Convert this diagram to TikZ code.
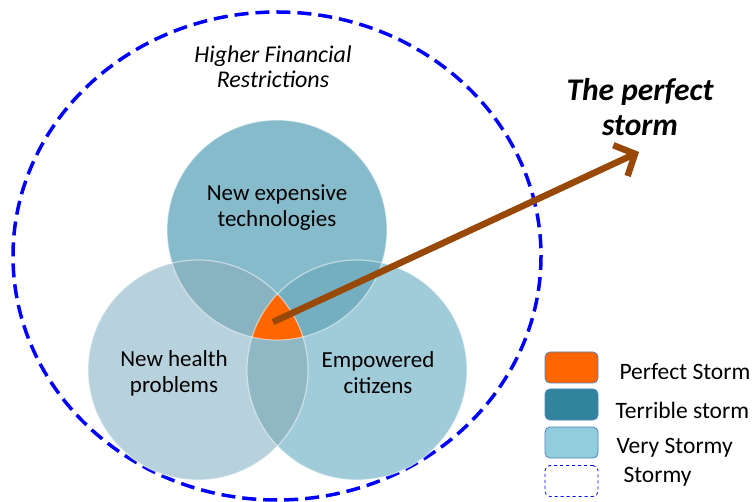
\documentclass[tikz,border=0pt]{standalone}
\usepackage{fontspec}
\setmainfont{Carlito}
\usetikzlibrary{arrows.meta}
\definecolor{stormtop}{HTML}{86BBCB}
\definecolor{stormleft}{HTML}{B7D2DC}
\definecolor{stormright}{HTML}{A0CBD9}
\definecolor{stormtl}{HTML}{8AB3C1}
\definecolor{stormtr}{HTML}{73AFC1}
\definecolor{stormlr}{HTML}{8FB7C4}
\definecolor{perfect}{HTML}{FF6600}
\definecolor{terrible}{HTML}{31849B}
\definecolor{verystormy}{HTML}{92CDDC}
\definecolor{arrowbrown}{HTML}{984807}
\definecolor{rim}{HTML}{4F81BD}
\tikzset{
	label text/.style={font=\fontsize{23}{26}\selectfont, align=center},
	legend box/.style={draw=rim, rounded corners=5pt, minimum width=53pt, minimum height=31pt, line width=0.8pt},
	legend text/.style={anchor=west, font=\fontsize{23.5}{26}\selectfont},
}
\begin{document}
\begin{tikzpicture}[x=1pt, y=-1pt]
		\useasboundingbox (0,0) rectangle (755,502);
		% outer dashed boundary
		\draw[blue, line width=3.5pt, dash pattern=on 14pt off 7pt] (277,256) ellipse (264 and 244);
		\node[font=\fontsize{24}{25}\selectfont\itshape, align=center] (restrict) at (273,67) {Higher Financial\\Restrictions};
		% the three circles
		\coordinate (ctop) at (277,230);
		\coordinate (cleft) at (198,370);
		\coordinate (cright) at (357,370);
		\fill[stormleft] (cleft) circle (110);
		\fill[stormright] (cright) circle (110);
		\fill[stormtop] (ctop) circle (110);
		\begin{scope}
			\clip (ctop) circle (110);
			\fill[stormtl] (cleft) circle (110);
			\fill[stormtr] (cright) circle (110);
		\end{scope}
		\begin{scope}
			\clip (cleft) circle (110);
			\fill[stormlr] (cright) circle (110);
		\end{scope}
		\begin{scope}
			\clip (ctop) circle (110);
			\clip (cleft) circle (110);
			\fill[perfect] (cright) circle (110);
		\end{scope}
		\draw[white, opacity=0.5, line width=1.2pt] (cleft) circle (110);
		\draw[white, opacity=0.5, line width=1.2pt] (cright) circle (110);
		\draw[white, opacity=0.5, line width=1.2pt] (ctop) circle (110);
		\node[label text] (tech) at (277,208) {New expensive\\technologies};
		\node[label text] (health) at (174,373) {New health\\problems};
		\node[label text] (citizens) at (378,373) {Empowered\\citizens};
		% the arrow
		\coordinate (core) at (273,322);
		\node[font=\fontsize{31.5}{35}\selectfont\bfseries\itshape, align=center] (storm) at (640,107) {The perfect\\storm};
		\coordinate (tip) at (639,152);
		\draw[arrowbrown, line width=6.5pt, -{Straight Barb[length=16pt, width=34pt, line width=6.5pt]}] (core) -- (tip);
		% legend
		\node[legend box, fill=perfect] (lperfect) at (571.5,367.5) {};
		\node[legend box, fill=terrible] (lterrible) at (571.5,404.5) {};
		\node[legend box, fill=verystormy] (lvery) at (571.5,442.5) {};
		\node[legend box, draw=blue, dashed, fill=white] (lstormy) at (571.5,481) {};
		\node[legend text] (tperfect) at (616,372) {Perfect Storm};
		\node[legend text] (tterrible) at (612,410) {Terrible storm};
		\node[legend text] (tvery) at (613,448) {Very Stormy};
		\node[legend text] (tstormy) at (620,477) {Stormy};
	\end{tikzpicture}
\end{document}
